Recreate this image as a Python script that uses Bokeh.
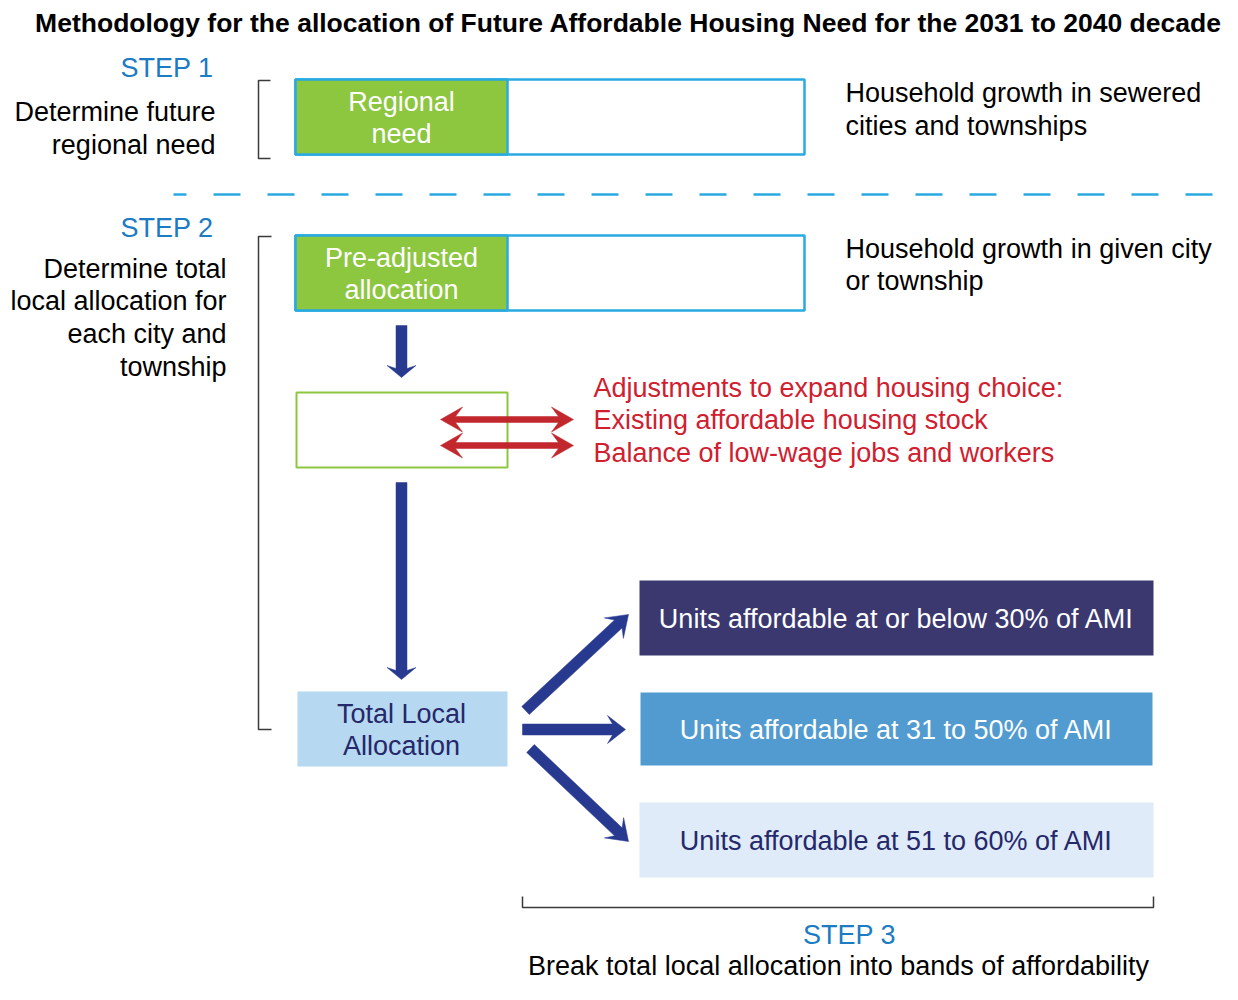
import numpy as np
from bokeh.plotting import figure
from bokeh.embed import file_html
from bokeh.resources import INLINE
from bokeh.core.properties import value

# ---------------- content ----------------
title = "Methodology for the allocation of Future Affordable Housing Need for the 2031 to 2040 decade"
step_labels = ["STEP 1", "STEP 2", "STEP 3"]
step1_desc = ["Determine future", "regional need"]
step2_desc = ["Determine total", "local allocation for", "each city and", "township"]
step3_desc = ["Break total local allocation into bands of affordability"]
box1_label = ["Regional", "need"]
box2_label = ["Pre-adjusted", "allocation"]
box1_note = ["Household growth in sewered", "cities and townships"]
box2_note = ["Household growth in given city", "or township"]
adjust_text = ["Adjustments to expand housing choice:",
               "Existing affordable housing stock",
               "Balance of low-wage jobs and workers"]
total_label = ["Total Local", "Allocation"]
band_labels = ["Units affordable at or below 30% of AMI",
               "Units affordable at 31 to 50% of AMI",
               "Units affordable at 51 to 60% of AMI"]

# ---------------- styles ----------------
FONT = value("Liberation Sans")
BODY = "27px"
BLUE_STEP = "#1b7bc3"
BORDER_BLUE = "#29abe2"
GREEN = "#8dc63f"
NAVY = "#283a90"
RED = "#c1272d"
RED_TXT = "#d0202f"
DARK_BOX = "#3b3870"
MID_BOX = "#529bd0"
LIGHT_BOX = "#dfebf8"
TOTAL_BOX = "#b6d8f1"
NAVY_TXT = "#25286a"
BRACKET = "#3a3a3a"

p = figure(width=1222, height=984, x_range=(0, 1222), y_range=(984, 0),
           output_backend="svg", toolbar_location=None, min_border=0)
p.axis.visible = False
p.grid.visible = False
p.outline_line_color = None
p.background_fill_color = "white"
p.border_fill_color = "white"


def txt(x, y, s, size=BODY, color="black", align="left", style="normal"):
    p.text(x=[x], y=[y], text=[s], text_font=FONT, text_font_size=size,
           text_color=color, text_align=align, text_baseline="middle",
           text_font_style=style)


def arrow_poly(x0, y0, x1, y1, sw, hw, hl, notch, double=False):
    P0 = np.array([x0, y0], float)
    P1 = np.array([x1, y1], float)
    u = (P1 - P0) / np.linalg.norm(P1 - P0)
    n = np.array([-u[1], u[0]])
    H1 = P1 - u * hl
    N1 = H1 + u * notch
    if double:
        H0 = P0 + u * hl
        N0 = H0 - u * notch
        pts = [N0 + n * sw / 2, N1 + n * sw / 2, H1 + n * hw / 2, P1,
               H1 - n * hw / 2, N1 - n * sw / 2, N0 - n * sw / 2,
               H0 - n * hw / 2, P0, H0 + n * hw / 2]
    else:
        pts = [P0 + n * sw / 2, N1 + n * sw / 2, H1 + n * hw / 2, P1,
               H1 - n * hw / 2, N1 - n * sw / 2, P0 - n * sw / 2]
    pts = np.array(pts)
    return list(pts[:, 0]), list(pts[:, 1])


def arrow(x0, y0, x1, y1, color, sw, hw, hl, notch, double=False):
    xs, ys = arrow_poly(x0, y0, x1, y1, sw, hw, hl, notch, double)
    p.patch(xs, ys, fill_color=color, line_color=color, line_width=0.5)


# ---------------- title ----------------
txt(628, 22, title, size="26.5px", align="center", style="bold")

# ---------------- STEP 1 ----------------
txt(213, 67, step_labels[0], color=BLUE_STEP, align="right")
for i, s in enumerate(step1_desc):
    txt(215, 111 + i * 33, s, align="right")
p.line([270, 258, 258, 270], [80, 80, 158, 158], line_color=BRACKET, line_width=1.5)
p.quad(left=[295], right=[804], top=[79], bottom=[154], fill_color="white",
       line_color=BORDER_BLUE, line_width=2.5)
p.quad(left=[295], right=[507], top=[79], bottom=[154], fill_color=GREEN,
       line_color=BORDER_BLUE, line_width=2.5)
for i, s in enumerate(box1_label):
    txt(401, 101 + i * 32, s, color="white", align="center")
for i, s in enumerate(box1_note):
    txt(845, 92 + i * 33, s)

# dashed separator
p.line([173, 1222], [194, 194], line_color=BORDER_BLUE, line_width=2.5,
       line_dash="27 27", line_dash_offset=14)

# ---------------- STEP 2 ----------------
txt(213, 227, step_labels[1], color=BLUE_STEP, align="right")
for i, s in enumerate(step2_desc):
    txt(226, 268 + i * 32.7, s, align="right")
p.line([271, 258, 258, 271], [236, 236, 729, 729], line_color=BRACKET, line_width=1.5)
p.quad(left=[295], right=[804], top=[235], bottom=[310], fill_color="white",
       line_color=BORDER_BLUE, line_width=2.5)
p.quad(left=[295], right=[507], top=[235], bottom=[310], fill_color=GREEN,
       line_color=BORDER_BLUE, line_width=2.5)
for i, s in enumerate(box2_label):
    txt(401, 257 + i * 32, s, color="white", align="center")
for i, s in enumerate(box2_note):
    txt(845, 248 + i * 32, s)

arrow(401, 325, 401, 377, NAVY, 11, 29, 12, 3)

p.quad(left=[296], right=[507], top=[392], bottom=[467], fill_color=None,
       line_color=GREEN, line_width=2)
arrow(440, 419, 573, 419, RED, 6, 25, 22, 7, double=True)
arrow(440, 445, 573, 445, RED, 6, 25, 22, 7, double=True)
for i, s in enumerate(adjust_text):
    txt(593, 387 + i * 32.5, s, color=RED_TXT)

arrow(401, 482, 401, 679, NAVY, 11, 29, 12, 3)

p.quad(left=[297], right=[507], top=[691], bottom=[766], fill_color=TOTAL_BOX,
       line_color=None)
for i, s in enumerate(total_label):
    txt(401, 713 + i * 32.5, s, color=NAVY_TXT, align="center")

# ---------------- STEP 3 bands ----------------
band_fill = [DARK_BOX, MID_BOX, LIGHT_BOX]
band_txt = ["white", "white", NAVY_TXT]
band_top = [580, 692, 802]
band_left = [639, 640, 639]
band_right = [1153, 1152, 1153]
band_h = [75, 73, 75]
for f, tc, t, l, r, h, s in zip(band_fill, band_txt, band_top, band_left,
                                band_right, band_h, band_labels):
    p.quad(left=[l], right=[r], top=[t], bottom=[t + h], fill_color=f, line_color=None)
    txt((l + r) / 2, t + h / 2 + 1, s, color=tc, align="center")

arrow(525, 710, 628, 614, NAVY, 11, 28, 20, 6)
arrow(522, 729, 625, 729, NAVY, 11, 28, 18, 5)
arrow(530, 748, 628, 841, NAVY, 11, 28, 20, 6)

p.line([522, 522, 1153, 1153], [896, 907, 907, 896], line_color=BRACKET, line_width=1.5)
txt(849, 934, step_labels[2], color=BLUE_STEP, align="center")
txt(838, 965, step3_desc[0], align="center")

open("out.html", "w").write(file_html(p, INLINE))
